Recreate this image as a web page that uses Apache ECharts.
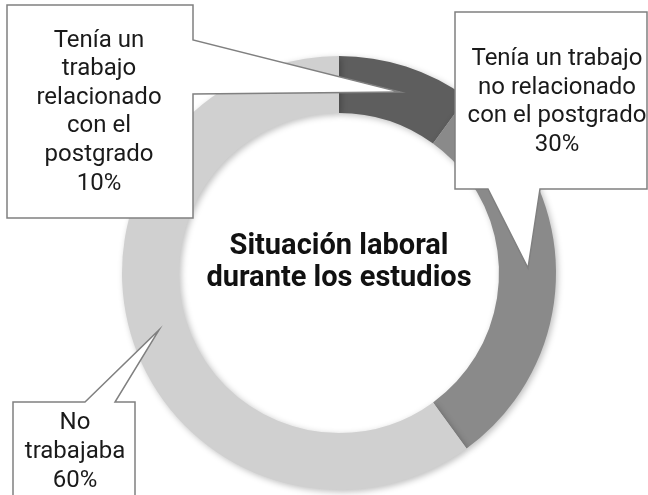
<!DOCTYPE html>
<html>
<head>
<meta charset="utf-8">
<script src="https://cdn.jsdelivr.net/npm/echarts@6.0.0/dist/echarts.min.js"></script>
<style>
  html, body { margin: 0; padding: 0; background: #fff; }
  #chart { width: 648px; height: 495px; }
</style>
</head>
<body>
<div id="chart"></div>
<script>
// datos del gráfico
const categorias = [
    'Tenía un\ntrabajo\nrelacionado\ncon el\npostgrado',
    'Tenía un trabajo\nno relacionado\ncon el postgrado',
    'No\ntrabajaba'
];
const porcentajes = [10, 30, 60];
const colores = ['#5e5e5e', '#8a8a8a', '#d0d0d0'];
const titulo = 'Situación laboral\ndurante los estudios';

// cajas de las etiquetas (forma de globo con punta)
const globos = [
    { puntos: [[7, 5], [193, 5], [193, 40], [400, 92], [193, 94], [193, 218], [7, 218]], texto: [99, 112] },
    { puntos: [[455, 12], [647, 12], [647, 189], [540, 189], [528, 268], [488, 189], [455, 189]], texto: [557, 102] },
    { puntos: [[13, 402], [85, 402], [159, 330], [115, 402], [135, 402], [135, 500], [13, 500]], texto: [75, 452] }
];

const chart = echarts.init(document.getElementById('chart'));

const graficos = [];
globos.forEach((g, i) => {
    graficos.push({
        type: 'polygon',
        z: 100,
        shape: { points: g.puntos },
        style: { fill: '#fff', stroke: '#808080', lineWidth: 1.5 }
    });
    graficos.push({
        type: 'text',
        z: 101,
        x: g.texto[0],
        y: g.texto[1],
        style: {
            text: categorias[i] + '\n' + porcentajes[i] + '%',
            fill: '#1a1a1a',
            font: '24px Roboto',
            lineHeight: 28.6,
            align: 'center',
            verticalAlign: 'middle'
        }
    });
});

// título en el centro del anillo
graficos.push({
    type: 'text',
    z: 101,
    x: 339,
    y: 263,
    style: {
        text: titulo,
        fill: '#111',
        font: 'bold 29px Roboto',
        lineHeight: 32,
        align: 'center',
        verticalAlign: 'middle'
    }
});

chart.setOption({
    animation: false,
    series: [{
        type: 'pie',
        center: [339, 273],
        radius: [160, 217],
        startAngle: 90,
        clockwise: true,
        silent: true,
        label: { show: false },
        labelLine: { show: false },
        itemStyle: {
            borderWidth: 0,
            shadowBlur: 6,
            shadowColor: 'rgba(0,0,0,0.25)',
            shadowOffsetX: 2,
            shadowOffsetY: 2
        },
        data: porcentajes.map((v, i) => ({
            value: v,
            name: categorias[i],
            itemStyle: { color: colores[i] }
        }))
    }],
    graphic: graficos
});
</script>
</body>
</html>
